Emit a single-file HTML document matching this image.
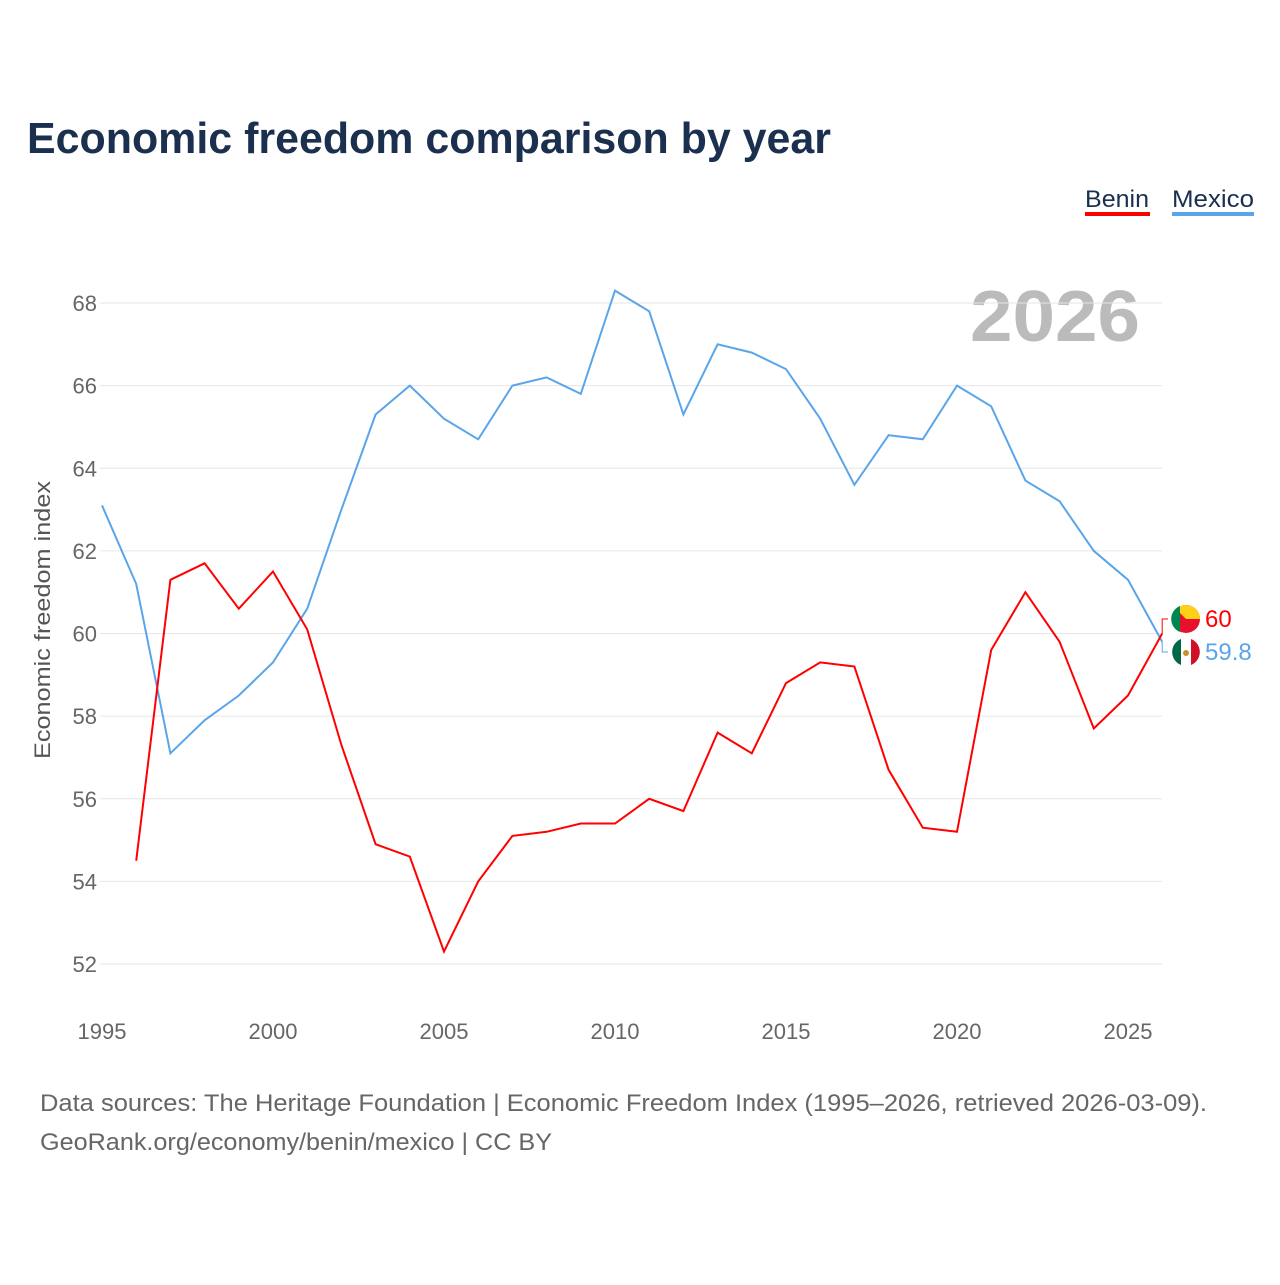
<!DOCTYPE html>
<html><head><meta charset="utf-8"><style>
body{margin:0;background:#fff;font-family:"Liberation Sans",sans-serif;}
</style></head><body>
<svg width="1280" height="1280" xmlns="http://www.w3.org/2000/svg" style="font-family:'Liberation Sans',sans-serif">
<text x="27" y="153" font-size="44" font-weight="bold" fill="#1b2f4f" textLength="804" lengthAdjust="spacingAndGlyphs">Economic freedom comparison by year</text>
<g>
<text x="1085" y="207" font-size="24" fill="#1b2f4f" textLength="64" lengthAdjust="spacingAndGlyphs">Benin</text>
<rect x="1085" y="212" width="65" height="4" fill="#f00"/>
<text x="1172" y="207" font-size="24" fill="#1b2f4f" textLength="82" lengthAdjust="spacingAndGlyphs">Mexico</text>
<rect x="1172" y="212" width="82" height="4" fill="#5aa5ea"/>
</g>
<text x="970" y="341" font-size="72" font-weight="bold" fill="#bbb" textLength="170" lengthAdjust="spacingAndGlyphs">2026</text>
<g id="grid"></g><g id="xt"></g><g id="lines"></g>
<text transform="translate(50,620) rotate(-90)" font-size="22" fill="#555" text-anchor="middle" textLength="278" lengthAdjust="spacingAndGlyphs">Economic freedom index</text>
<text x="40" y="1111" font-size="24" fill="#666" textLength="1167" lengthAdjust="spacingAndGlyphs">Data sources: The Heritage Foundation | Economic Freedom Index (1995–2026, retrieved 2026-03-09).</text>
<text x="40" y="1150" font-size="24" fill="#666" textLength="512" lengthAdjust="spacingAndGlyphs">GeoRank.org/economy/benin/mexico | CC BY</text>
</svg>
<script>
const years=[1995,1996,1997,1998,1999,2000,2001,2002,2003,2004,2005,2006,2007,2008,2009,2010,2011,2012,2013,2014,2015,2016,2017,2018,2019,2020,2021,2022,2023,2024,2025,2026];
const mexico=[63.1,61.2,57.1,57.9,58.5,59.3,60.6,63.0,65.3,66.0,65.2,64.7,66.0,66.2,65.8,68.3,67.8,65.3,67.0,66.8,66.4,65.2,63.6,64.8,64.7,66.0,65.5,63.7,63.2,62.0,61.3,59.8];
const benin=[null,54.5,61.3,61.7,60.6,61.5,60.1,57.3,54.9,54.6,52.3,54.0,55.1,55.2,55.4,55.4,56.0,55.7,57.6,57.1,58.8,59.3,59.2,56.7,55.3,55.2,59.6,61.0,59.8,57.7,58.5,60.0];
const yTicks=[52,54,56,58,60,62,64,66,68];
const xTicks=[1995,2000,2005,2010,2015,2020,2025];
const NS="http://www.w3.org/2000/svg";
const X=y=>102+(y-1995)*(1128-102)/30;
const Y=v=>964-(v-52)*(964-303)/16;
function mk(t,a,p){const e=document.createElementNS(NS,t);for(const k in a)e.setAttribute(k,a[k]);p.appendChild(e);return e;}
const grid=document.getElementById('grid');
yTicks.forEach(v=>{
 const l=mk('line',{x1:100,x2:1162,y1:Y(v),y2:Y(v),stroke:'#e6e6e6','stroke-width':1},grid);
 
 
 const t=mk('text',{x:97,y:Y(v)+8,'font-size':22,fill:'#666','text-anchor':'end'},grid);t.textContent=v;
 
 
});
const xt=document.getElementById('xt');
xTicks.forEach(v=>{
 const t=mk('text',{x:X(v),y:1039,'font-size':22,fill:'#666','text-anchor':'middle'},xt);t.textContent=v;
 
 
});
const lines=document.getElementById('lines');
function path(vals,col,name){
 let d='';vals.forEach((v,i)=>{if(v==null)return;d+=(d?'L':'M')+X(years[i]).toFixed(1)+','+Y(v).toFixed(1);});
 const p=mk('path',{d:d,fill:'none',stroke:col,'stroke-width':2},lines);
 
 
}
path(mexico,'#5aa5ea','mexico-line');
path(benin,'#f00','benin-line');
const lb=benin[benin.length-1],lm=mexico[mexico.length-1],xe=X(2026);
mk('path',{d:`M${xe},${Y(lb)}L${xe},619L1168,619`,fill:'none',stroke:'#f00','stroke-width':1},lines);
mk('path',{d:`M${xe},${Y(lm)}L${xe},652L1168,652`,fill:'none',stroke:'#5aa5ea','stroke-width':1},lines);
const fb=mk('g',{},lines);
mk('circle',{cx:1186,cy:619,r:14,fill:'#e8112d'},fb);
mk('path',{d:'M1186,605A14,14 0 0 1 1200,619L1186,619Z',fill:'#fcd116'},fb);
mk('path',{d:'M1176,609A14,14 0 0 1 1186,605L1186,619L1200,619L1186,619Z',fill:'#fcd116'},fb);
mk('path',{d:'M1180,606A14,14 0 0 0 1180,632Z',fill:'#008751'},fb);
const fm=mk('g',{},lines);
mk('circle',{cx:1186,cy:652,r:14,fill:'#fff'},fm);
mk('path',{d:'M1181,639A14,14 0 0 0 1181,665Z',fill:'#006847'},fm);
mk('path',{d:'M1191,639A14,14 0 0 1 1191,665Z',fill:'#ce1126'},fm);
mk('circle',{cx:1186,cy:653,r:3,fill:'#c8902a'},fm);
const t1=mk('text',{x:1205,y:627,'font-size':24,fill:'#f00'},lines);t1.textContent=lb%1?lb.toFixed(1):lb;


const t2=mk('text',{x:1205,y:660,'font-size':24,fill:'#5aa5ea'},lines);t2.textContent=lm%1?lm.toFixed(1):lm;


</script>
</body></html>
